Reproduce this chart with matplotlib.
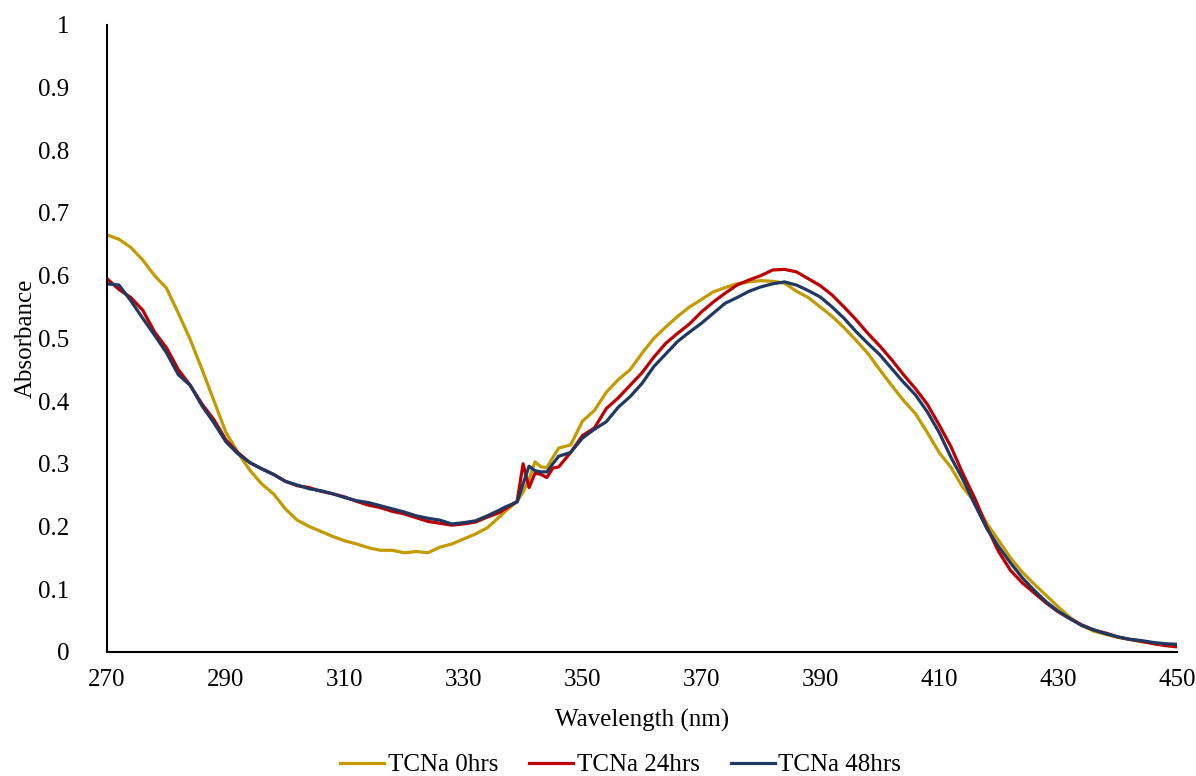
"""
Absorbance spectra of TCNa at 0, 24 and 48 hours.
"""

import matplotlib
matplotlib.use('Agg')
import matplotlib.pyplot as plt

wavelength = (list(range(270, 338, 2)) + list(range(337, 347))
              + list(range(348, 451, 2)))

tcna_0hrs = [
    0.665, 0.658, 0.645, 0.625, 0.600, 0.580, 0.540, 0.498, 0.450, 0.400,
    0.350, 0.318, 0.290, 0.268, 0.252, 0.228, 0.210, 0.200, 0.192, 0.184,
    0.177, 0.172, 0.166, 0.162, 0.162, 0.158, 0.160, 0.158, 0.167, 0.172,
    0.180, 0.188, 0.198, 0.215,
    0.224, 0.232, 0.240, 0.255, 0.275, 0.303, 0.295, 0.294, 0.310, 0.325,
    0.330, 0.368, 0.385, 0.414, 0.434, 0.450, 0.476, 0.500, 0.518, 0.535,
    0.550, 0.562, 0.574, 0.581, 0.587, 0.590, 0.592, 0.591, 0.588, 0.575,
    0.565, 0.550, 0.535, 0.517, 0.497, 0.476, 0.450, 0.425, 0.401, 0.380,
    0.350, 0.318, 0.294, 0.262, 0.239, 0.205, 0.178, 0.150, 0.127, 0.108,
    0.090, 0.072, 0.055, 0.042, 0.033, 0.028, 0.023, 0.020, 0.016, 0.014,
    0.012, 0.010,
]

tcna_24hrs = [
    0.595, 0.578, 0.565, 0.545, 0.510, 0.485, 0.450, 0.425, 0.395, 0.370,
    0.338, 0.318, 0.302, 0.292, 0.283, 0.272, 0.265, 0.262, 0.256, 0.252,
    0.247, 0.240, 0.234, 0.230, 0.224, 0.220, 0.214, 0.208, 0.205, 0.202,
    0.204, 0.207, 0.215, 0.222,
    0.228, 0.234, 0.240, 0.300, 0.262, 0.285, 0.283, 0.278, 0.293, 0.295,
    0.318, 0.345, 0.357, 0.388, 0.405, 0.425, 0.445, 0.470, 0.492, 0.508,
    0.523, 0.542, 0.558, 0.572, 0.585, 0.593, 0.600, 0.609, 0.610, 0.606,
    0.595, 0.584, 0.569, 0.550, 0.530, 0.508, 0.488, 0.466, 0.442, 0.420,
    0.395, 0.362, 0.327, 0.284, 0.245, 0.200, 0.160, 0.130, 0.110, 0.094,
    0.078, 0.064, 0.053, 0.043, 0.035, 0.030, 0.024, 0.020, 0.017, 0.013,
    0.010, 0.008,
]

tcna_48hrs = [
    0.587, 0.585, 0.560, 0.532, 0.505, 0.477, 0.442, 0.425, 0.392, 0.365,
    0.335, 0.316, 0.302, 0.292, 0.283, 0.272, 0.266, 0.260, 0.257, 0.252,
    0.246, 0.241, 0.238, 0.233, 0.228, 0.223, 0.217, 0.213, 0.210, 0.204,
    0.206, 0.209, 0.217, 0.226,
    0.231, 0.235, 0.239, 0.268, 0.296, 0.289, 0.287, 0.287, 0.300, 0.312,
    0.318, 0.341, 0.355, 0.367, 0.390, 0.407, 0.428, 0.455, 0.475, 0.495,
    0.510, 0.524, 0.540, 0.556, 0.565, 0.575, 0.582, 0.587, 0.590, 0.585,
    0.576, 0.566, 0.550, 0.532, 0.511, 0.492, 0.474, 0.452, 0.430, 0.410,
    0.383, 0.350, 0.310, 0.275, 0.235, 0.197, 0.168, 0.142, 0.118, 0.098,
    0.080, 0.065, 0.053, 0.042, 0.035, 0.029, 0.024, 0.020, 0.018, 0.015,
    0.013, 0.012,
]

series = [
    ('TCNa 0hrs', tcna_0hrs, '#C49A00'),
    ('TCNa 24hrs', tcna_24hrs, '#C00000'),
    ('TCNa 48hrs', tcna_48hrs, '#203864'),
]

plt.rcParams['font.family'] = ['Liberation Serif', 'DejaVu Serif']
plt.rcParams['font.size'] = 18

fig = plt.figure(figsize=(11.96, 7.76), dpi=100)
ax = fig.add_axes([0.0895, 0.16, 0.8945, 0.808])

for label, values, color in series:
    ax.plot(wavelength, values, color=color, lw=2.3, label=label)

ax.set_xlim(270, 450)
ax.set_ylim(0, 1)
ax.set_xticks(range(270, 451, 20))
ax.set_yticks([i / 10 for i in range(11)])
ax.set_yticklabels(['0'] + [f'{i / 10:g}' for i in range(1, 10)] + ['1'])
ax.tick_params(length=0)
ax.tick_params(axis='y', pad=27)
ax.tick_params(axis='x', pad=12)
ax.spines[['top', 'right']].set_visible(False)
ax.spines[['left', 'bottom']].set_linewidth(1.5)
ax.set_xlabel('Wavelength (nm)', labelpad=13)
ax.set_ylabel('Absorbance', labelpad=1)

fig.legend(loc='center', ncol=3, frameon=False, handlelength=1.75,
           handletextpad=0.15, columnspacing=1.25,
           bbox_to_anchor=(0.519, 0.014))

fig.savefig('out.png', dpi=100)
